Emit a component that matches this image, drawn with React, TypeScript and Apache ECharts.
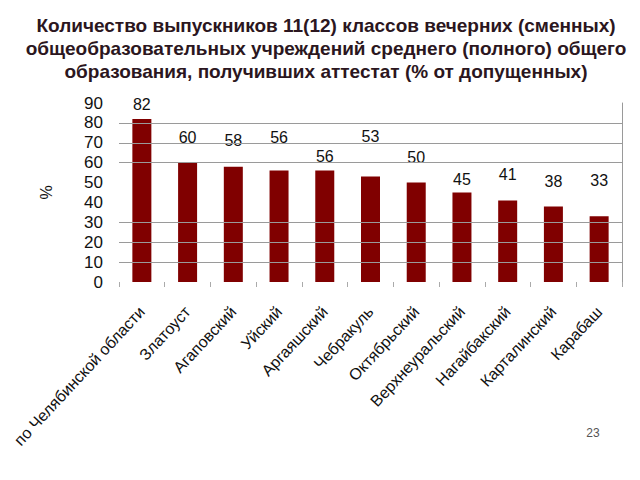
import React, { useEffect, useRef } from "react";
import * as echarts from "echarts";

const categories = [
  "по Челябинской области",
  "Златоуст",
  "Агаповский",
  "Уйский",
  "Аргаяшский",
  "Чебракуль",
  "Октябрьский",
  "Верхнеуральский",
  "Нагайбакский",
  "Карталинский",
  "Карабаш",
];
const values = [82, 60, 58, 56, 56, 53, 50, 45, 41, 38, 33];
// extra lift of each value label above its bar (px), as placed in the original slide
const labelLift = [2, 13, 14, 21, 2, 28, 13, 1, 14, 13, 24];
const yTicks = { min: 0, max: 90, interval: 10 };
// horizontal gridlines that are visible in the original picture
const visibleGridValues = [10, 20, 30, 60, 70, 80];
const titleLines = [
  "Количество выпускников 11(12) классов вечерних (сменных)",
  "общеобразовательных учреждений среднего (полного) общего",
  "образования, получивших аттестат (% от допущенных)",
];
const pageNumber = "23";

const FONT = "'Liberation Sans', Arial, sans-serif";

export default function App() {
  const ref = useRef<HTMLDivElement>(null);
  useEffect(() => {
    if (!ref.current) return;
    const chart = echarts.init(ref.current, null, { renderer: "svg" });
    chart.setOption({
      animation: false,
      backgroundColor: "#ffffff",
      textStyle: { fontFamily: FONT },
      grid: { left: 119, right: 18, top: 103, bottom: 198 },
      graphic: [
        {
          type: "text",
          x: 326,
          y: 14,
          style: {
            text: titleLines.join("\n"),
            font: `bold 19px ${FONT}`,
            fill: "#2b1620",
            align: "center",
            verticalAlign: "top",
            lineHeight: 23,
          },
        },
        {
          type: "text",
          x: 593,
          y: 433,
          style: {
            text: pageNumber,
            font: `12px ${FONT}`,
            fill: "#555555",
            align: "center",
            verticalAlign: "middle",
          },
        },
      ],
      xAxis: {
        type: "category",
        data: categories,
        axisLine: { show: false },
        splitLine: { show: false },
        axisTick: { show: true, length: 5, lineStyle: { color: "#aaaaaa" } },
        axisLabel: {
          rotate: 47,
          interval: 0,
          fontSize: 16,
          fontFamily: FONT,
          color: "#111111",
          margin: 27,
        },
      },
      yAxis: [
        {
          type: "value",
          min: yTicks.min,
          max: yTicks.max,
          interval: yTicks.interval,
          name: "%",
          nameLocation: "middle",
          nameRotate: 90,
          nameGap: 65,
          nameTextStyle: { fontSize: 16, fontFamily: FONT, color: "#111111" },
          axisLine: { show: false },
          axisTick: { show: false },
          axisLabel: { fontSize: 17, fontFamily: FONT, color: "#111111", margin: 16 },
          splitLine: { show: false },
        },
        {
          type: "value",
          position: "right",
          min: yTicks.min,
          max: yTicks.max,
          interval: yTicks.interval,
          axisLine: { show: true, lineStyle: { color: "#9a9a9a" } },
          axisTick: { show: false },
          axisLabel: { show: false },
          splitLine: { show: false },
        },
      ],
      series: [
        {
          type: "line",
          data: [],
          z: 1,
          silent: true,
          markLine: {
            silent: true,
            symbol: "none",
            label: { show: false },
            lineStyle: { color: "#9a9a9a", type: "solid", width: 1 },
            data: visibleGridValues.map((v) => ({ yAxis: v })),
          },
        },
        {
          type: "bar",
          barWidth: 19,
          z: 3,
          itemStyle: { color: "#800000" },
          data: values.map((v, i) => ({
            value: v,
            label: { offset: [0, -labelLift[i]] },
          })),
          label: {
            show: true,
            position: "top",
            distance: 4,
            fontSize: 16,
            fontFamily: FONT,
            color: "#111111",
          },
        },
      ],
    });
    return () => chart.dispose();
  }, []);
  return (
    <div
      ref={ref}
      style={{ position: "fixed", left: 0, top: 0, width: 640, height: 480 }}
    />
  );
}
